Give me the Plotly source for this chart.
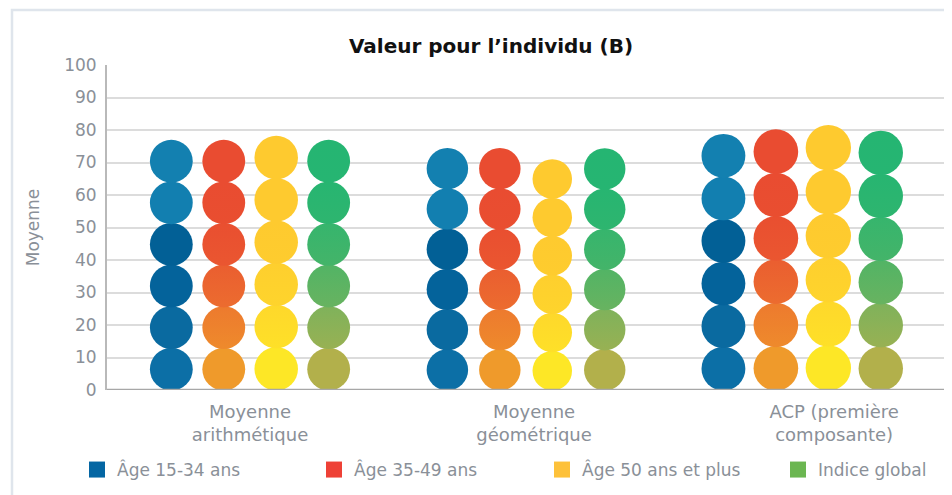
import plotly.graph_objects as go

# ---- data ----
categories = ["Moyenne<br>arithmétique", "Moyenne<br>géométrique", "ACP (première<br>composante)"]
series_names = ["Âge 15-34 ans", "Âge 35-49 ans", "Âge 50 ans et plus", "Indice global"]
age_15_34 = [76.8, 74.3, 78.6]
age_35_49 = [76.8, 74.3, 80.0]
age_50_plus = [78.0, 70.8, 81.3]
indice_global = [76.8, 74.2, 79.6]
y_ticks = [0, 10, 20, 30, 40, 50, 60, 70, 80, 90, 100]

# ---- style ----
FONT = "DejaVu Sans"
TXT = "#8a9098"
legend_colors = ["#0466a3", "#ee4136", "#fdc13a", "#6bb651"]
# circle colours bottom -> top for each series
circle_colors = [
    ["#0c6fa6", "#0a6aa0", "#04639b", "#026096", "#127fb0", "#1380b0"],
    ["#ef9a2b", "#ed7a2e", "#ea5e30", "#e94f30", "#e94c31", "#e94c31"],
    ["#fde726", "#fed82b", "#fecf2e", "#feca2f", "#feca2f", "#feca2f"],
    ["#b2b04b", "#7fb25b", "#52b465", "#36b56d", "#27b571", "#25b572"],
]
blend_gradient = [False, True, True, True]
series_values = [age_15_34, age_35_49, age_50_plus, indice_global]
n_circles = 6
col_step = 0.19
x_range = [-0.518, 2.514]
label_pos = [0.0, 1.029, 2.116]


def mix(c1, c2, t=0.5):
    a = [int(c1[i:i + 2], 16) for i in (1, 3, 5)]
    b = [int(c2[i:i + 2], 16) for i in (1, 3, 5)]
    return "#" + "".join(f"{round(x + (y - x) * t):02x}" for x, y in zip(a, b))


# page is offset by the 8px body margin
W, H = 944, 487
M_L, M_R, M_T, M_B = 99, 8, 57, 105
plot_w = W - M_L - M_R
plot_h = H - M_T - M_B
px_per_unit = plot_h / (y_ticks[-1] - y_ticks[0])

# legend square centres (px from figure left) and legend row centre (px from figure top)
legend_px = [89, 326, 554, 790]
legend_row_px = 462

fig = go.Figure()

for s, (name, vals) in enumerate(zip(series_names, series_values)):
    xs, ys, sizes, cols, gcols = [], [], [], [], []
    offset = (s - 1.5) * col_step
    for g, v in enumerate(vals):
        step = v / n_circles
        for k in range(n_circles):
            xs.append(g + offset)
            ys.append(step * (k + 0.5))
            sizes.append(step * px_per_unit * 1.03)
            c = circle_colors[s][k]
            cols.append(c)
            gcols.append(mix(c, circle_colors[s][max(k - 1, 0)]) if blend_gradient[s] else c)
    fig.add_trace(go.Scatter(
        x=xs, y=ys, mode="markers", showlegend=False, hoverinfo="skip",
        marker=dict(symbol="circle", size=sizes, color=cols, opacity=1,
                    line=dict(width=0),
                    gradient=dict(type="vertical", color=gcols)),
    ))
    lg = "legend" if s == 0 else f"legend{s + 1}"
    fig.add_trace(go.Scatter(
        x=[None], y=[None], mode="markers", name=name, legend=lg,
        marker=dict(symbol="square", size=16, color=legend_colors[s]),
    ))

legend_common = dict(orientation="h", xanchor="left", yanchor="middle",
                     font=dict(family=FONT, size=17, color=TXT),
                     itemclick=False, itemdoubleclick=False,
                     bgcolor="rgba(0,0,0,0)")
legends = {}
for s in range(4):
    key = "legend" if s == 0 else f"legend{s + 1}"
    legends[key] = dict(legend_common,
                        x=(legend_px[s] - 20 - M_L) / plot_w,
                        y=-(legend_row_px - (H - M_B)) / plot_h)

fig.update_layout(
    width=W, height=H,
    margin=dict(l=M_L, r=M_R, t=M_T, b=M_B, autoexpand=False),
    paper_bgcolor="white", plot_bgcolor="white",
    font=dict(family=FONT, color=TXT, size=16),
    title=dict(text="<b>Valeur pour l’individu (B)</b>", x=483 / W, xanchor="center",
               y=1 - 38 / H, yanchor="middle",
               font=dict(family=FONT, size=20, color="#111111")),
    xaxis=dict(range=x_range, tickvals=label_pos, ticktext=categories,
               showgrid=False, zeroline=False, showline=False,
               tickfont=dict(family=FONT, size=18, color=TXT), ticks="",
               ticklabelstandoff=9),
    yaxis=dict(range=[0, 100], tickvals=y_ticks, showgrid=True, gridcolor="#dcdcdc",
               gridwidth=2, zeroline=False, showline=True, linecolor="#b9b9b9",
               linewidth=2, tickfont=dict(family=FONT, size=17, color=TXT),
               ticks="", ticklabelstandoff=5,
               title=dict(text="Moyenne", font=dict(family=FONT, size=17, color=TXT),
                          standoff=20)),
    shapes=[
        dict(type="line", xref="paper", yref="y", x0=0, x1=1, y0=0, y1=0,
             line=dict(color="#a7a7a7", width=2.5)),
        dict(type="rect", xref="paper", yref="paper",
             x0=-(M_L - 4) / plot_w, x1=1 + (M_R + 20) / plot_w,
             y0=-(M_B + 20) / plot_h, y1=1 + (M_T - 2) / plot_h,
             line=dict(color="#dfe5ec", width=2.5), layer="below"),
    ],
    **legends,
)

fig.write_html("out.html")
